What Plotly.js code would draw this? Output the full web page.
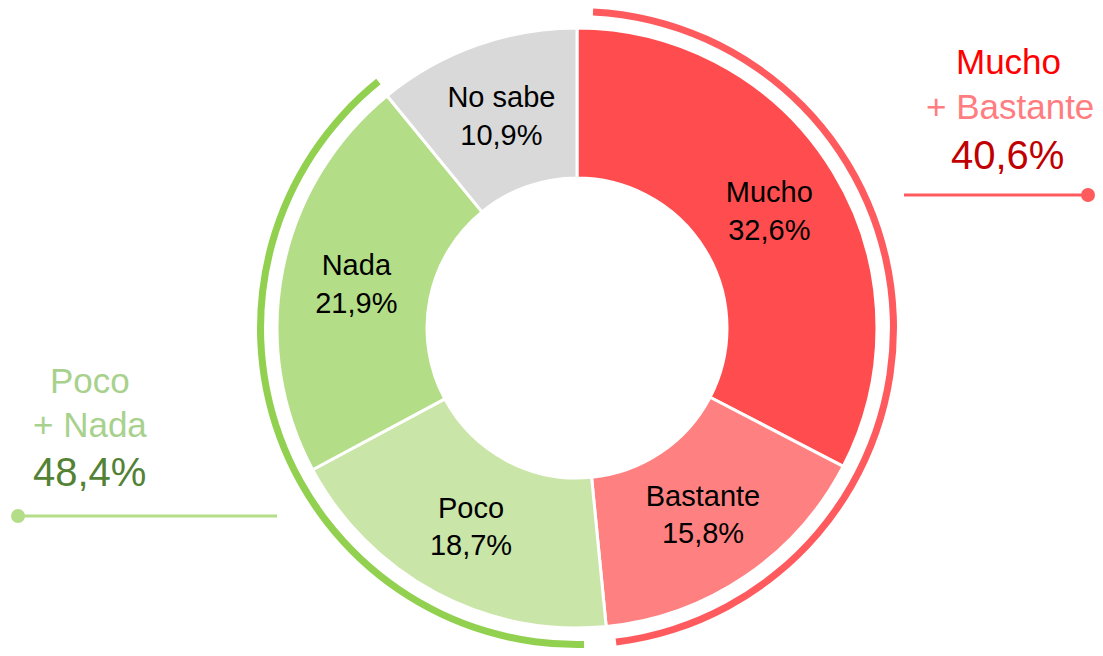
<!DOCTYPE html>
<html><head><meta charset="utf-8">
<script src="https://cdn.plot.ly/plotly-3.0.1.min.js"></script>
<style>html,body{margin:0;padding:0;background:#fff;}#chart{width:1103px;height:656px;}</style>
</head><body><div id="chart"></div>
<script>
const categories = ["Mucho", "Bastante", "Poco", "Nada", "No sabe"];
const values = [32.6, 15.8, 18.7, 21.9, 10.9];
const sliceColors = ["#FF4D4F", "#FF8080", "#C9E5A7", "#B3DE87", "#D9D9D9"];
const groupLabels = ["Mucho + Bastante", "Poco + Nada"];
const groupValues = [40.6, 48.4];

const fmt = v => v.toFixed(1).replace('.', ',') + '%';
const total = values.reduce((a, b) => a + b, 0);

// outer arcs derived from slice groups
const gap = 0.8;
const redSpan = values[0] + values[1];
const greenSpan = values[2] + values[3];
const arcVals = [gap, redSpan - 2 * gap, gap * 2.0, greenSpan - gap * 2.0 + 0.2, total - redSpan - greenSpan - 0.2];
const arcColors = ["rgba(0,0,0,0)", "#FF5B5E", "rgba(0,0,0,0)", "#92D050", "rgba(0,0,0,0)"];

const W = 1103, H = 656;
const cx = 577, cy = 328, R = 300, Ra = 320;
const F = 'Liberation Sans, Arial, sans-serif';

const traces = [
  {
    type: 'pie', values: arcVals, sort: false, direction: 'clockwise', rotation: 0,
    hole: 0.978, marker: {colors: arcColors, line: {width: 0}},
    textinfo: 'none', hoverinfo: 'skip', showlegend: false,
    domain: {x: [(cx - Ra) / W, (cx + Ra) / W], y: [(H - cy - Ra) / H, (H - cy + Ra) / H]}
  },
  {
    type: 'pie', labels: categories, values: values, sort: false, direction: 'clockwise', rotation: 0,
    hole: 0.5, marker: {colors: sliceColors, line: {color: '#FFFFFF', width: 3}},
    text: categories.map((c, i) => c + '<br>' + fmt(values[i])),
    textinfo: 'text', textposition: 'inside', insidetextorientation: 'horizontal',
    textfont: {family: F, size: 29, color: '#000000'},
    hoverinfo: 'label+value', showlegend: false,
    domain: {x: [(cx - R) / W, (cx + R) / W], y: [(H - cy - R) / H, (H - cy + R) / H]}
  }
];

const layout = {
  width: W, height: H, margin: {l: 0, r: 0, t: 0, b: 0},
  paper_bgcolor: '#FFFFFF', plot_bgcolor: '#FFFFFF', showlegend: false,
  uniformtext: {minsize: 29, mode: 'show'},
  annotations: [
    {xref: 'paper', yref: 'paper', x: 1008 / W, y: 1 - 62 / H, text: 'Mucho', showarrow: false, font: {family: F, size: 35, color: '#FF0000'}, xanchor: 'center', yanchor: 'middle'},
    {xref: 'paper', yref: 'paper', x: 1010 / W, y: 1 - 106 / H, text: '+ Bastante', showarrow: false, font: {family: F, size: 35, color: '#FF7C80'}, xanchor: 'center', yanchor: 'middle'},
    {xref: 'paper', yref: 'paper', x: 1007 / W, y: 1 - 155 / H, text: fmt(groupValues[0]), showarrow: false, font: {family: F, size: 40, color: '#C00000'}, xanchor: 'center', yanchor: 'middle'},
    {xref: 'paper', yref: 'paper', x: 90 / W, y: 1 - 380 / H, text: 'Poco', showarrow: false, font: {family: F, size: 35, color: '#A9D18E'}, xanchor: 'center', yanchor: 'middle'},
    {xref: 'paper', yref: 'paper', x: 90 / W, y: 1 - 424 / H, text: '+ Nada', showarrow: false, font: {family: F, size: 35, color: '#A9D18E'}, xanchor: 'center', yanchor: 'middle'},
    {xref: 'paper', yref: 'paper', x: 89 / W, y: 1 - 472 / H, text: fmt(groupValues[1]), showarrow: false, font: {family: F, size: 40, color: '#548235'}, xanchor: 'center', yanchor: 'middle'}
  ],
  shapes: [
    {type: 'line', xref: 'paper', yref: 'paper', x0: 904 / W, x1: 1088 / W, y0: 1 - 195 / H, y1: 1 - 195 / H, line: {color: '#FF5B5E', width: 3}},
    {type: 'circle', xref: 'paper', yref: 'paper', x0: 1081 / W, x1: 1095 / W, y0: 1 - 202 / H, y1: 1 - 188 / H, fillcolor: '#FF5B5E', line: {width: 0}},
    {type: 'line', xref: 'paper', yref: 'paper', x0: 18 / W, x1: 277 / W, y0: 1 - 516 / H, y1: 1 - 516 / H, line: {color: '#B3DE87', width: 3}},
    {type: 'circle', xref: 'paper', yref: 'paper', x0: 11 / W, x1: 25 / W, y0: 1 - 523 / H, y1: 1 - 509 / H, fillcolor: '#B3DE87', line: {width: 0}}
  ]
};
Plotly.newPlot('chart', traces, layout, {displayModeBar: false, staticPlot: true});
</script></body></html>
